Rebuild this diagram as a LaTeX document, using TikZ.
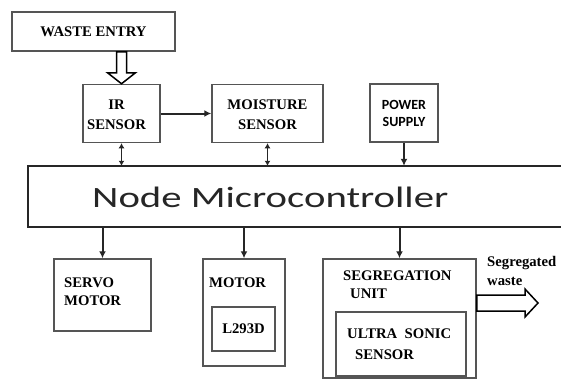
\documentclass[tikz,border=0pt]{standalone}
\usepackage{fontspec}
\setmainfont{Liberation Serif}
\newfontfamily\mcfont{Carlito}
\newfontfamily\psfont{Carlito}
\usetikzlibrary{arrows.meta,calc}
\definecolor{boxgray}{RGB}{85,85,85}
\tikzset{
  blk/.style={draw=boxgray, line width=1.5pt, fill=white, inner sep=0pt, font=\bfseries\fontsize{14.7}{20}\selectfont, align=center},
  lbl/.style={font=\bfseries\fontsize{14.7}{18}\selectfont, inner sep=0pt, anchor=base west},
  conn/.style={line width=2pt, draw=black!85, -{Latex[length=7pt,width=7pt]}},
  dconn/.style={line width=1.8pt, draw=black!85, {Latex[length=5pt,width=6pt]}-{Latex[length=5pt,width=6pt]}},
  hollow/.style={draw=black, line width=1.5pt, fill=white, line join=miter},
}
\begin{document}
\begin{tikzpicture}[x=1pt,y=-1pt]
\useasboundingbox (0,0) rectangle (561,380);
% top row
\node[blk, minimum width=163pt, minimum height=39pt] (waste) at (93.5,31.5) {WASTE ENTRY};
\node[blk, minimum width=77pt, minimum height=58pt] (ir) at (121.5,113.5) {};
\node[blk, draw=none, fill=none] (irt) at (116.5,115) {IR\\SENSOR};
\node[blk, minimum width=111pt, minimum height=58pt] (moist) at (267.5,113.5) {};
\node[blk, draw=none, fill=none] (moistt) at (267.5,115) {MOISTURE\\SENSOR};
\node[blk, minimum width=68pt, minimum height=58pt, font=\psfont\bfseries\fontsize{14}{17}\selectfont] (power) at (404,113) {POWER\\SUPPLY};
% microcontroller
\node[minimum width=533pt, minimum height=61pt, inner sep=0pt] (mc) at (294.5,196.5) {};
\draw[line width=1.5pt, draw=black!85] (mc.north east) -- (mc.north west) -- (mc.south west) -- (mc.south east);
\node[font=\mcfont\fontsize{29.5}{32}\selectfont, anchor=base west, inner sep=0pt, text=black!85] (mctext) at (92,207) {\scalebox{1.38}[1]{Node Microcontroller}};
% bottom row
\node[blk, minimum width=97pt, minimum height=72pt] (servo) at (102.5,295) {};
\node[lbl, align=left] (servot) at (64,305) {SERVO\\MOTOR};
\node[blk, minimum width=82pt, minimum height=107pt] (motor) at (244,312.5) {};
\node[lbl] (motort) at (209,287) {MOTOR};
\node[blk, minimum width=63pt, minimum height=44pt] (l293) at (243.5,329) {L293D};
\node[blk, minimum width=153pt, minimum height=119pt] (seg) at (399.5,318.5) {};
\node[lbl, align=left] (segt) at (343,298) {SEGREGATION\\\hspace*{7pt}UNIT};
\node[blk, minimum width=130pt, minimum height=64pt] (us) at (401,344) {};
\node[lbl, align=left, font=\bfseries\fontsize{14.7}{21}\selectfont] (ust) at (347,359) {ULTRA\ \ SONIC\\\hspace*{8pt}SENSOR};
% connectors
\draw[conn] (ir.east) -- (moist.west);
\draw[dconn] (ir.south) -- (ir.south |- mc.north);
\draw[dconn] (moist.south) -- (moist.south |- mc.north);
\draw[conn] (power.south) -- (power.south |- mc.north);
\draw[conn] (mc.south -| servo.north) -- (servo.north);
\draw[conn] (mc.south -| motor.north) -- (motor.north);
\draw[conn] (mc.south -| seg.north) -- (seg.north);
% hollow arrow waste entry -> IR
\coordinate (wa) at (waste.south -| ir.north);
\draw[hollow] ($(wa)+(-5,0)$) -- ($(wa)+(5,0)$) -- ($(wa)+(5,21)$) -- ($(wa)+(14,21)$) -- (ir.north) -- ($(wa)+(-14,21)$) -- ($(wa)+(-5,21)$) -- cycle;
% hollow arrow segregated waste
\coordinate (stip) at (538,303);
\coordinate (sa) at (seg.east |- stip);
\draw[hollow] ($(sa)+(0,-8)$) -- (525,295) -- (525,289) -- (stip) -- (525,317) -- (525,311) -- ($(sa)+(0,8)$) -- cycle;
\node[lbl, align=left, font=\bfseries\fontsize{14.7}{19}\selectfont] (segw) at (487,285) {Segregated\\waste};
\end{tikzpicture}
\end{document}
